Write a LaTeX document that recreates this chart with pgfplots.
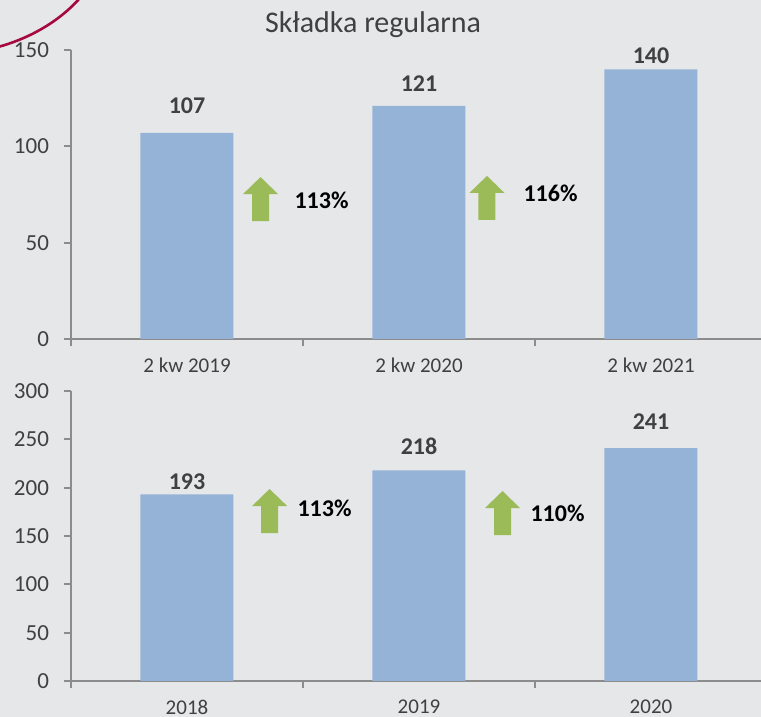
\documentclass[border=0pt]{standalone}
\usepackage{pgfplots}
\pgfplotsset{compat=1.18}
\usepackage{fontspec}
\setmainfont{Carlito}

\definecolor{bg}{HTML}{E6E7E9}
\definecolor{barblue}{HTML}{95B3D7}
\definecolor{axisgray}{HTML}{8C8C8C}
\definecolor{txtgray}{HTML}{404040}
\definecolor{arrgreen}{HTML}{9BBB59}
\definecolor{curvered}{HTML}{A6093D}

% green up-arrow, #1 = bottom centre
\newcommand{\uparr}[1]{\fill[arrgreen] #1
  ++(canvas cs:x=-4.25pt,y=0pt) -- ++(canvas cs:x=0pt,y=13.5pt) -- ++(canvas cs:x=-4.5pt,y=0pt)
  -- ++(canvas cs:x=8.75pt,y=8.5pt) -- ++(canvas cs:x=8.75pt,y=-8.5pt) -- ++(canvas cs:x=-4.5pt,y=0pt)
  -- ++(canvas cs:x=0pt,y=-13.5pt) -- cycle;}

\tikzset{
  vlab/.style={font=\fontsize{12}{14}\selectfont\bfseries, text=txtgray},
  plab/.style={font=\fontsize{12}{14}\selectfont\bfseries, text=black},
}

\pgfplotsset{
  panel/.style={
    scale only axis, width=348pt, clip=false,
    anchor=south west,
    xmin=-0.5, xmax=2.5, ymin=0,
    axis x line*=bottom, axis y line*=left,
    axis line style={draw=axisgray, line width=1pt},
    tick align=outside,
    major tick length=3.5pt,
    y tick style={draw=axisgray, line width=1pt},
    x tick style={draw=none},
    xtick={0,1,2},
    extra x ticks={-0.5,0.5,1.5},
    extra x tick labels={},
    extra x tick style={x tick style={draw=axisgray, line width=1pt}},
    /pgf/number format/assume math mode=true,
    yticklabel style={font=\fontsize{11.5}{13}\selectfont, text=txtgray, xshift=-4pt},
    xticklabel style={font=\fontsize{10.5}{12}\selectfont, text=txtgray, yshift=-2.5pt},
    ybar, bar width=46.5pt,
  },
}

\begin{document}
\begin{tikzpicture}
\useasboundingbox (0,0) rectangle (380.5pt,358.5pt);
\clip (0,0) rectangle (380.5pt,358.5pt);
\fill[bg] (0,0) rectangle (380.5pt,358.5pt);
\draw[curvered, line width=1.3pt] (-1pt,335pt) .. controls (12pt,338.5pt) and (28pt,346pt) .. (40pt,359.5pt);
\node[font=\fontsize{15}{17}\selectfont, text=txtgray] at (186.5pt,346pt) {Składka regularna};

\begin{axis}[panel, at={(35.5pt,189pt)}, height=144.5pt,
  ymax=150, ytick={0,50,100,150},
  xticklabels={2 kw 2019, 2 kw 2020, 2 kw 2021}]
\addplot[fill=barblue, draw=none] coordinates {(0,107) (1,121) (2,140)};
\node[vlab] at (axis cs:0,121.0) {107};
\node[vlab] at (axis cs:1,132.4) {121};
\node[vlab] at (axis cs:2,146.9) {140};
\uparr{(axis cs:0.317,61.2)}
\uparr{(axis cs:1.293,61.8)}
\node[plab] at (axis cs:0.580,72.1) {113\%};
\node[plab] at (axis cs:1.567,75.8) {116\%};
\end{axis}

\begin{axis}[panel, at={(35.5pt,18pt)}, height=145pt,
  ymax=300, ytick={0,50,...,300},
  xticklabels={2018, 2019, 2020}]
\addplot[fill=barblue, draw=none] coordinates {(0,193) (1,218) (2,241)};
\node[vlab] at (axis cs:0,205.9) {193};
\node[vlab] at (axis cs:1,243.1) {218};
\node[vlab] at (axis cs:2,267.9) {241};
\uparr{(axis cs:0.356,153.1)}
\uparr{(axis cs:1.360,151.0)}
\node[plab] at (axis cs:0.593,179.0) {113\%};
\node[plab] at (axis cs:1.597,173.8) {110\%};
\end{axis}
\end{tikzpicture}
\end{document}
